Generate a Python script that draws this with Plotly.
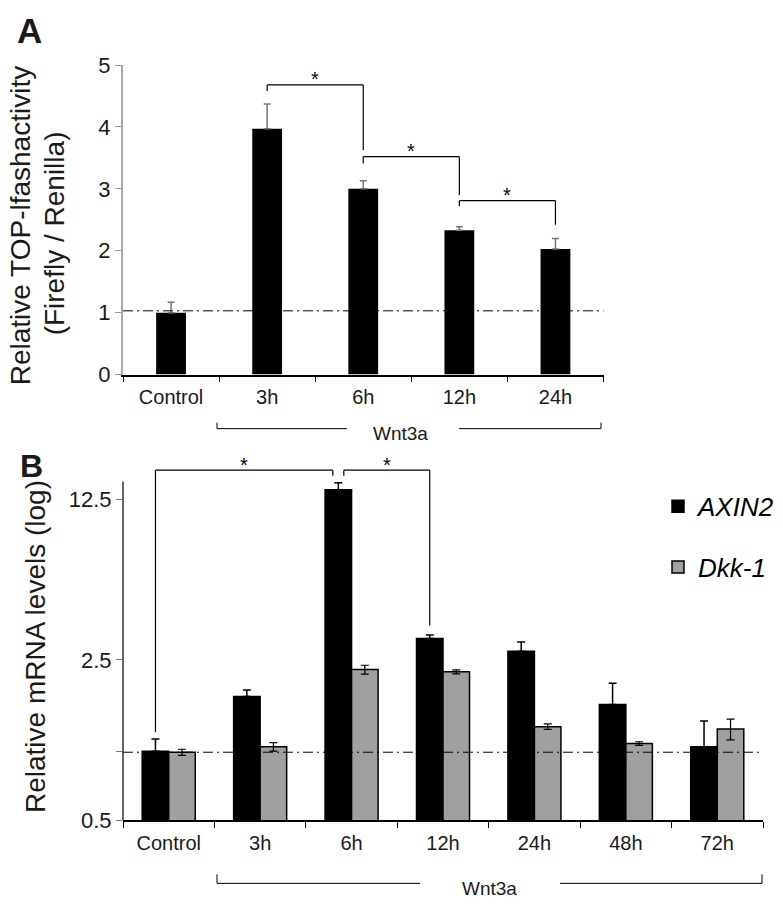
import math

import plotly.graph_objects as go

# Data

# Panel A: TOP-flash reporter activity
categories_a = ["Control", "3h", "6h", "12h", "24h"]
topflash_a = [1.0, 3.97, 3.0, 2.33, 2.03]
topflash_err_a = [0.17, 0.40, 0.13, 0.06, 0.17]
y_ticks_a = [0, 1, 2, 3, 4, 5]
baseline_a = 1.03

# Panel B: mRNA levels (log scale)
categories_b = ["Control", "3h", "6h", "12h", "24h", "48h", "72h"]
axin2_b = [1.0, 1.73, 13.8, 3.1, 2.73, 1.6, 1.045]
axin2_err_b = [0.13, 0.12, 1.0, 0.11, 0.26, 0.38, 0.31]
dkk1_b = [0.99, 1.045, 2.27, 2.22, 1.28, 1.08, 1.25]
dkk1_err_b = [0.03, 0.045, 0.1, 0.045, 0.035, 0.02, 0.13]
y_ticks_b = [0.5, 1, 2.5, 12.5]
y_tick_text_b = ["0.5", "", "2.5", "12.5"]
baseline_b = 0.99

# Layout constants
W = 783
H = 910
FONT = "Liberation Sans, Arial, sans-serif"
TEXT = "#1a1a1a"
GREY = "#a0a0a0"
BAR_W_B = 0.29

# the photographed page comes out slightly squeezed vertically, so
# positions measured on the reference are mapped back through this
Y_SCALE = 0.971
Y_OFFSET = 14


def px_x(x):
	return x / W


def px_y(y):
	return 1 - ((y - Y_OFFSET) / Y_SCALE) / H


def main():

	fig = go.Figure()

	# 1. Panel A bars
	fig.add_trace(go.Bar(
		x=categories_a, y=topflash_a, width=0.31,
		marker=dict(color="black", line=dict(width=0)),
		error_y=dict(type="data", array=topflash_err_a, arrayminus=[0] * len(topflash_err_a),
			symmetric=False, color="#777777", thickness=1.5, width=3.5),
		xaxis="x", yaxis="y", showlegend=False
	))

	# 2. Panel B grouped bars
	fig.add_trace(go.Bar(
		x=categories_b, y=axin2_b, width=BAR_W_B, offset=-BAR_W_B,
		name="<i>AXIN2</i>", legendgroup="a",
		marker=dict(color="black", line=dict(color="black", width=1.5)),
		error_y=dict(type="data", array=axin2_err_b, arrayminus=[0] * len(axin2_err_b),
			symmetric=False, color="black", thickness=1.5, width=4),
		xaxis="x2", yaxis="y2"
	))
	fig.add_trace(go.Bar(
		x=categories_b, y=dkk1_b, width=BAR_W_B, offset=0,
		name="<i>Dkk-1</i>", legendgroup="b",
		marker=dict(color=GREY, line=dict(color="black", width=1.5)),
		error_y=dict(type="data", array=dkk1_err_b,
			color="black", thickness=1.2, width=4),
		xaxis="x2", yaxis="y2"
	))

	shapes = []
	annotations = []
	dashdot = dict(color="black", width=1, dash="10px,4px,2px,4px")

	# 3. Dash-dot baselines (shapes take data values, also on the log axis)
	shapes.append(dict(type="line", xref="x domain", yref="y", x0=0, x1=1,
		y0=baseline_a, y1=baseline_a, line=dashdot))
	shapes.append(dict(type="line", xref="x2 domain", yref="y2", x0=0, x1=1,
		y0=baseline_b, y1=baseline_b, line=dashdot))

	# 4. Panel B y axis line (drawn so the plot area can hold the brackets)
	shapes.append(dict(type="line", xref="x2 domain", yref="y2", x0=0, x1=0,
		y0=0.5, y1=15, line=dict(color="black", width=1.2)))

	# 5. Significance brackets
	def bracket(xref, yref, xl, xr, top, yl, yr, star_shift, log=False):
		for (x0, y0, x1, y1) in [(xl, yl, xl, top), (xl, top, xr, top), (xr, top, xr, yr)]:
			shapes.append(dict(type="line", xref=xref, yref=yref, x0=x0, x1=x1,
				y0=y0, y1=y1, line=dict(color="black", width=1.2)))
		annotations.append(dict(x=(xl + xr) / 2, y=math.log10(top) if log else top,
			xref=xref, yref=yref, text="*", showarrow=False,
			xanchor="center", yanchor="middle", yshift=star_shift,
			font=dict(size=20, color="black", family=FONT)))

	ia = categories_a.index
	bracket("x", "y", ia("3h"), ia("6h"), 4.68, 4.58, 3.63, 6)
	bracket("x", "y", ia("6h"), ia("12h"), 3.52, 3.41, 2.90, 6)
	bracket("x", "y", ia("12h"), ia("24h"), 2.81, 2.72, 2.42, 6)

	ib = lambda c: categories_b.index(c) - BAR_W_B / 2
	bracket("x2", "y2", ib("Control"), ib("6h") - 0.06, 16.8, 1.21, 15.9, 5, log=True)
	bracket("x2", "y2", ib("6h") + 0.06, ib("12h"), 16.8, 15.9, 3.53, 5, log=True)

	# 6. Wnt3a group brackets under the axes
	def group_line(x_left, x_gap0, x_text, x_gap1, x_right, y_line, y_tick):
		line = dict(color="black", width=1)
		shapes.append(dict(type="path", xref="paper", yref="paper",
			path="M %f,%f L %f,%f L %f,%f" % (px_x(x_left), px_y(y_tick), px_x(x_left), px_y(y_line),
				px_x(x_gap0), px_y(y_line)), line=line))
		shapes.append(dict(type="path", xref="paper", yref="paper",
			path="M %f,%f L %f,%f L %f,%f" % (px_x(x_gap1), px_y(y_line), px_x(x_right), px_y(y_line),
				px_x(x_right), px_y(y_tick)), line=line))
		annotations.append(dict(x=px_x(x_text), y=px_y(y_line + 5), xref="paper", yref="paper",
			xanchor="center", yanchor="middle",
			text="Wnt3a", showarrow=False, font=dict(size=19, color=TEXT, family=FONT)))

	group_line(217, 347, 401, 459, 601, 430, 424)
	group_line(217, 420, 489, 560, 762, 884, 875)

	# 7. Panel letters and axis titles
	def label(x, y, text, size, angle=0):
		annotations.append(dict(x=px_x(x), y=px_y(y), xref="paper", yref="paper",
			xanchor="center", yanchor="middle", textangle=angle, text=text,
			showarrow=False, font=dict(size=size, color=TEXT, family=FONT)))

	label(29, 32, "<b>A</b>", 35)
	label(31, 467, "<b>B</b>", 32)
	label(20, 227, "Relative TOP-lfashactivity", 28, -90)
	label(54, 235, "(Firefly / Renilla)", 28, -90)
	label(36, 648, "Relative mRNA levels (log)", 28, -90)

	# 8. Axes
	x_common = dict(type="category", tickson="boundaries", ticks="outside", ticklen=6,
		tickcolor="black", showline=True, linecolor="black", linewidth=1.5,
		ticklabelstandoff=4, showgrid=False, zeroline=False,
		tickfont=dict(size=20, color=TEXT, family=FONT))

	fig.update_layout(
		width=W, height=H,
		margin=dict(l=0, r=0, t=0, b=0),
		paper_bgcolor="white", plot_bgcolor="white",
		barmode="group",
		font=dict(family=FONT, color=TEXT),
		xaxis=dict(x_common, domain=[px_x(123), px_x(603.5)], range=[-0.5, 4.5], anchor="y"),
		yaxis=dict(domain=[px_y(376), px_y(67)], range=[0, 5], tickvals=y_ticks_a,
			ticks="outside", ticklen=6, tickcolor="#999999", showline=True, linecolor="#a8a8a8",
			linewidth=2, showgrid=False, zeroline=False, anchor="x",
			tickfont=dict(size=22, color=TEXT, family=FONT)),
		xaxis2=dict(x_common, domain=[px_x(123), px_x(763)], range=[-0.5, 6.5], anchor="y2"),
		yaxis2=dict(type="log", domain=[px_y(821), px_y(467.4)],
			range=[math.log10(0.5), math.log10(17.5)], tickvals=y_ticks_b, ticktext=y_tick_text_b,
			ticks="outside", ticklen=6, tickcolor="#777777", showline=False,
			showgrid=False, zeroline=False, anchor="x2",
			tickfont=dict(size=22, color=TEXT, family=FONT)),
		legend=dict(x=px_x(658), y=px_y(484), xanchor="left", yanchor="top",
			traceorder="grouped", tracegroupgap=24, bgcolor="rgba(0,0,0,0)",
			font=dict(size=26, color="black", family=FONT)),
		shapes=shapes,
		annotations=annotations
	)

	# Page sits flush with the window edge, no mode bar
	fig.write_html("out.html", config={"displayModeBar": False},
		post_script="document.body.style.margin = '0';")


if "__main__" == __name__:
	main()
